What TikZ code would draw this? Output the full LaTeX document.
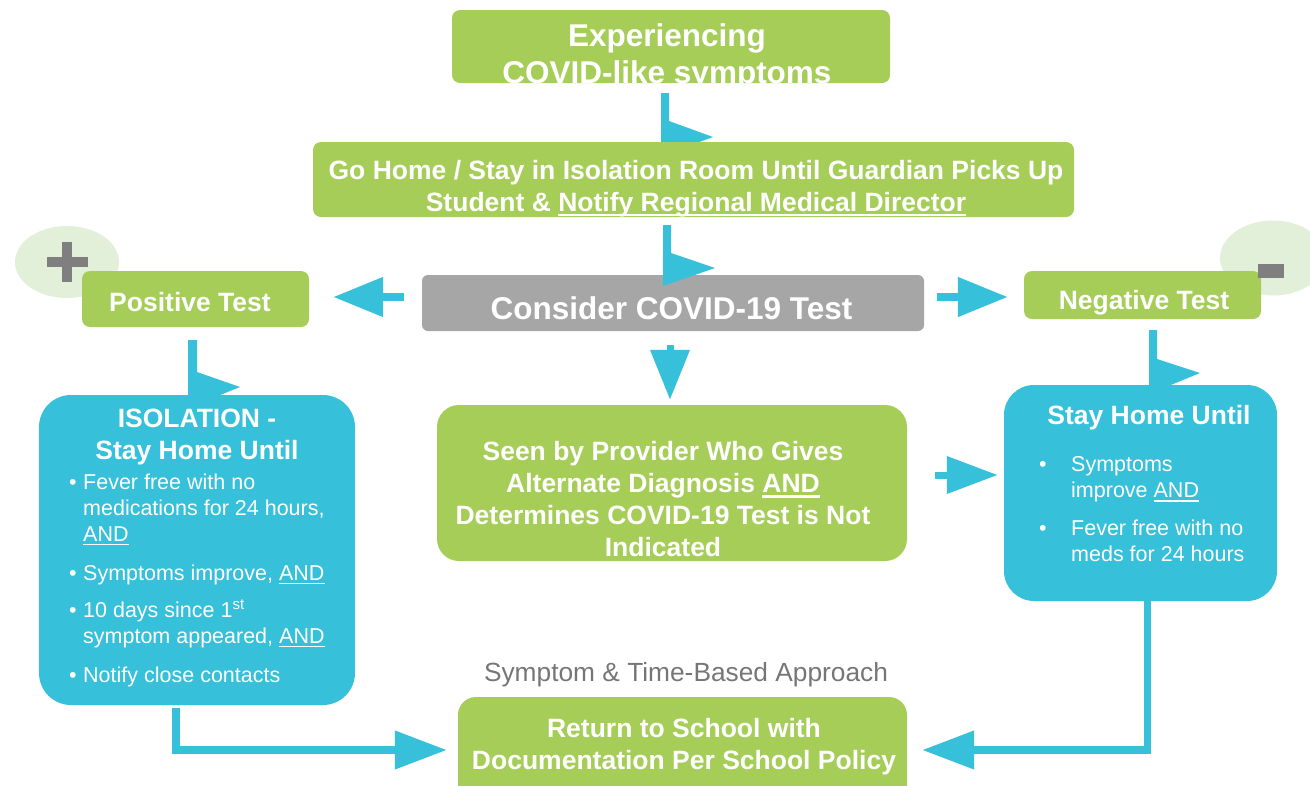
\documentclass[tikz,border=0pt]{standalone}
\usepackage{fontspec}
\setmainfont{Liberation Sans}
\usetikzlibrary{arrows.meta}
\usetikzlibrary{shapes.geometric}
\definecolor{cgreen}{RGB}{165,205,88}
\definecolor{cblue}{RGB}{54,192,218}
\definecolor{cgrey}{RGB}{166,166,166}
\definecolor{cpale}{RGB}{226,239,217}
\definecolor{csign}{RGB}{127,127,127}
\definecolor{cnote}{RGB}{118,118,118}
\newcommand{\undl}[1]{\setbox0\hbox{#1}\rlap{\vrule height -0.11em depth 0.19em width \wd0}\box0}

\begin{document}
\begin{tikzpicture}[x=1pt, y=-1pt,
  gbox/.style={fill=cgreen, rounded corners=8pt, inner sep=0pt},
  bbox/.style={fill=cblue, rounded corners=32pt, inner sep=0pt},
  btxt/.style={text=white, font=\bfseries\fontsize{26.5}{32}\selectfont, align=center, inner sep=0pt},
  big/.style={font=\bfseries\fontsize{31.5}{37}\selectfont},
  ltxt/.style={text=white, font=\fontsize{21.5}{26}\selectfont, inner sep=0pt, anchor=north west},
  barrow/.style={draw=cblue, line width=8pt, -{Triangle[width=38pt, length=50pt]}},
  larrow/.style={draw=cblue, line width=7.5pt, -{Triangle[width=37pt, length=52pt]}}
]
\useasboundingbox (0,0) rectangle (1310,785);

%pale circles behind the signs
\node[ellipse, fill=cpale, minimum width=104pt, minimum height=72pt, inner sep=0pt] (pcirc) at (67,262) {};
\node[ellipse, fill=cpale, minimum width=106pt, minimum height=75pt, inner sep=0pt] (mcirc) at (1273,258) {};

%kinked down arrows (under the boxes)
\fill[cblue] (661,93) -- (669,93) -- (669,121) -- (713,137) -- (661,156) -- cycle;
\fill[cblue] (188,340) -- (197,340) -- (197,372) -- (240,387) -- (188,408) -- cycle;
\fill[cblue] (1149,330) -- (1157,330) -- (1157,359) -- (1200,373) -- (1149,394) -- cycle;

%top of the chart
\node[gbox, minimum width=438pt, minimum height=73pt] (exp) at (671,46.5) {};
\node[btxt, big] (expt) at (667,56.5) {Experiencing\\COVID-like symptoms};

\node[gbox, minimum width=761pt, minimum height=75pt] (home) at (693.5,179.5) {};
\node[btxt] (homet) at (696,188.5) {Go Home / Stay in Isolation Room Until Guardian Picks Up\\Student \& \undl{Notify Regional Medical Director}};

\node[fill=cgrey, rounded corners=6pt, minimum width=502pt, minimum height=56pt] (test) at (673,303) {};
\node[btxt, big] (testt) at (671.5,308) {Consider COVID-19 Test};

%test results
\node[gbox, minimum width=227pt, minimum height=56pt] (pos) at (195.5,299) {};
\node[btxt] (post) at (190,302) {Positive Test};
\node[gbox, minimum width=237pt, minimum height=48pt] (neg) at (1142.5,295) {};
\node[btxt] (negt) at (1144,302.6) {Negative Test};

%left column
\node[bbox, minimum width=316pt, minimum height=310pt] (iso) at (197,550) {};
\node[btxt] (isot) at (197,436.5) {ISOLATION -\\Stay Home Until};
\node[ltxt] (isol) at (69,471) {\begin{tabular}{@{}p{14pt}@{}l@{}}
• & Fever free with no\\
  & medications for 24 hours,\\
  & \undl{AND}\\[13pt]
• & Symptoms improve, \undl{AND}\\[11pt]
• & 10 days since 1\textsuperscript{st}\\
  & symptom appeared, \undl{AND}\\[13pt]
• & Notify close contacts
\end{tabular}};

%middle column
\node[gbox, rounded corners=22pt, minimum width=470pt, minimum height=156pt] (prov) at (672,483) {};
\node[btxt] (provt) at (663,499) {Seen by Provider Who Gives\\Alternate Diagnosis \undl{AND}\\Determines COVID-19 Test is Not\\Indicated};

%right column
\node[bbox, rounded corners=30pt, minimum width=273pt, minimum height=216pt] (stay) at (1140.5,493) {};
\node[btxt] (stayt) at (1149,417.6) {Stay Home Until};
\node[ltxt] (stayl) at (1039,453.5) {\begin{tabular}{@{}p{32pt}@{}l@{}}
• & Symptoms\\
  & improve \undl{AND}\\[12pt]
• & Fever free with no\\
  & meds for 24 hours
\end{tabular}};

%bottom
\node[text=cnote, font=\fontsize{26.3}{32}\selectfont, inner sep=0pt] (note) at (686,674.6) {Symptom \& Time-Based Approach};
\node[gbox, rounded corners=18pt, minimum width=449pt, minimum height=106pt] (ret) at (682.5,750) {};
\node[btxt] (rett) at (684,746.6) {Return to School with\\Documentation Per School Policy};

%kinked arrow over the grey box
\fill[cblue] (663,225) -- (671,225) -- (671,253) -- (715,268) -- (663,286) -- cycle;

%signs
\draw[csign, line width=10pt] ([xshift=-20.5pt]pcirc.center) -- ([xshift=20.5pt]pcirc.center);
\draw[csign, line width=10pt] ([yshift=20pt]pcirc.center) -- ([yshift=-20pt]pcirc.center);
\fill[csign] (1258,264) rectangle (1284,278);

%arrows
\draw[barrow] ([xshift=-18pt,yshift=6pt]test.west) -- ([xshift=24pt,yshift=2pt]pos.east);
\draw[barrow] ([xshift=13pt,yshift=6pt]test.east) -- ([xshift=-16pt,yshift=-2pt]neg.west);
\draw[barrow, line width=7pt] ([xshift=-3pt,yshift=-14pt]test.south) -- ([xshift=-2pt,yshift=5pt]prov.north);
\draw[barrow, line width=7pt, -{Triangle[width=36pt, length=51pt]}] ([xshift=28pt,yshift=8pt]prov.east) -- ([xshift=-6pt,yshift=18pt]stay.west);
\draw[larrow] ([xshift=-21pt,yshift=-3pt]iso.south) |- ([xshift=-11pt]ret.west);
\draw[larrow] ([xshift=7pt]stay.south) |- ([xshift=15pt]ret.east);
\end{tikzpicture}
\end{document}
